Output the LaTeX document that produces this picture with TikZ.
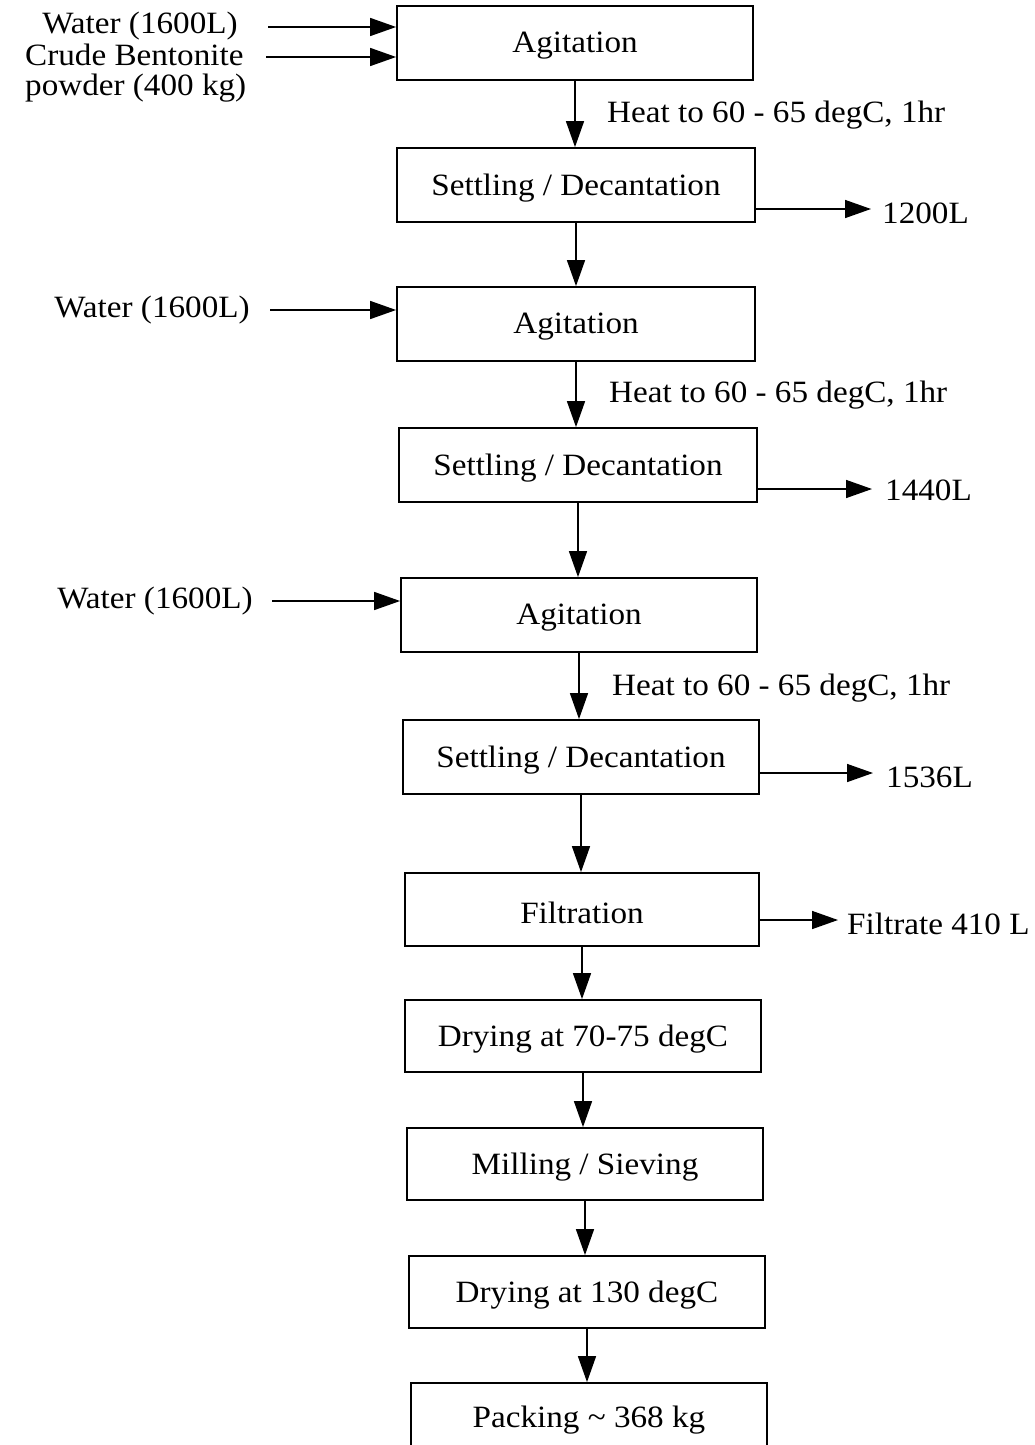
\documentclass[tikz,border=0pt]{standalone}
\usepackage{fontspec}
\setmainfont{Liberation Serif}[FakeStretch=1.07]
\usetikzlibrary{arrows.meta}
\begin{document}
\begin{tikzpicture}[x=1pt,y=-1pt,
  every node/.style={font=\fontsize{31}{30}\selectfont, inner sep=0pt},
  box/.style={draw, line width=1.8pt, minimum height=74pt, align=center},
  txt/.style={yshift=-3pt},
  flow/.style={line width=1.5pt, -{Triangle[length=26pt,width=18pt]}},
  lbl/.style={anchor=west, yshift=-3pt}]
\useasboundingbox (0,0) rectangle (1034,1445);
% process boxes
\node[box, minimum width=356pt] (b1) at (575,43) {};
\node[box, minimum width=358pt] (b2) at (576,185) {};
\node[box, minimum width=358pt] (b3) at (576,324) {};
\node[box, minimum width=358pt] (b4) at (578,465) {};
\node[box, minimum width=356pt] (b5) at (579,615) {};
\node[box, minimum width=356pt] (b6) at (581,757) {};
\node[box, minimum width=354pt, minimum height=73pt] (b7) at (582,909.5) {};
\node[box, minimum width=356pt, minimum height=72pt] (b8) at (583,1036) {};
\node[box, minimum width=356pt, minimum height=72pt] (b9) at (585,1164) {};
\node[box, minimum width=356pt, minimum height=72pt] (b10) at (587,1292) {};
\node[box, minimum width=356pt, minimum height=72pt] (b11) at (589,1419) {};
% box texts
\node[txt] (t1) at (b1) {Agitation};
\node[txt] (t2) at (b2) {Settling / Decantation};
\node[txt] (t3) at (b3) {Agitation};
\node[txt] (t4) at (b4) {Settling / Decantation};
\node[txt] (t5) at (b5) {Agitation};
\node[txt] (t6) at (b6) {Settling / Decantation};
\node[txt] (t7) at (b7) {Filtration};
\node[txt] (t8) at (b8) {Drying at 70-75 degC};
\node[txt] (t9) at (b9) {Milling / Sieving};
\node[txt] (t10) at (b10) {Drying at 130 degC};
\node[txt] (t11) at (589,1417) {Packing \textasciitilde{} 368 kg};
% vertical flow
\draw[flow] (b1.south) -- (b1.south |- b2.north);
\draw[flow] (b2.south) -- (b2.south |- b3.north);
\draw[flow] (b3.south) -- (b3.south |- b4.north);
\draw[flow] (b4.south) -- (b4.south |- b5.north);
\draw[flow] (b5.south) -- (b5.south |- b6.north);
\draw[flow] (b6.south) -- (b6.south |- b7.north);
\draw[flow] (b7.south) -- (b7.south |- b8.north);
\draw[flow] (b8.south) -- (b8.south |- b9.north);
\draw[flow] (b9.south) -- (b9.south |- b10.north);
\draw[flow] (b10.south) -- (b10.south |- b11.north);
% heat labels
\node[lbl] (h1) at (607,112) {Heat to 60 - 65 degC, 1hr};
\node[lbl] (h2) at (609,392) {Heat to 60 - 65 degC, 1hr};
\node[lbl] (h3) at (612,685) {Heat to 60 - 65 degC, 1hr};
% inputs
\node[txt] (w1) at (140,23) {Water (1600L)};
\node[anchor=west, align=left, yshift=-3pt] (cb) at (25,70) {Crude Bentonite\\powder (400 kg)};
\coordinate (i1) at (268,27);
\coordinate (i2) at (266,57);
\draw[flow] (i1) -- (i1 -| b1.west);
\draw[flow] (i2) -- (i2 -| b1.west);
\node[txt] (w2) at (152,307) {Water (1600L)};
\coordinate (i3) at (270,310);
\draw[flow] (i3) -- (i3 -| b3.west);
\node[txt] (w3) at (155,598) {Water (1600L)};
\coordinate (i4) at (272,601);
\draw[flow] (i4) -- (i4 -| b5.west);
% outputs
\coordinate (o1) at (871,209);
\draw[flow] (o1 -| b2.east) -- (o1);
\node[lbl] (l1) at (882,210) {1200L};
\coordinate (o2) at (872,489);
\draw[flow] (o2 -| b4.east) -- (o2);
\node[lbl] (l2) at (885,487) {1440L};
\coordinate (o3) at (873,773);
\draw[flow] (o3 -| b6.east) -- (o3);
\node[lbl] (l3) at (886,774) {1536L};
\coordinate (o4) at (838,920);
\draw[flow] (o4 -| b7.east) -- (o4);
\node[lbl] (l4) at (847,921) {Filtrate 410 L};
\end{tikzpicture}
\end{document}
